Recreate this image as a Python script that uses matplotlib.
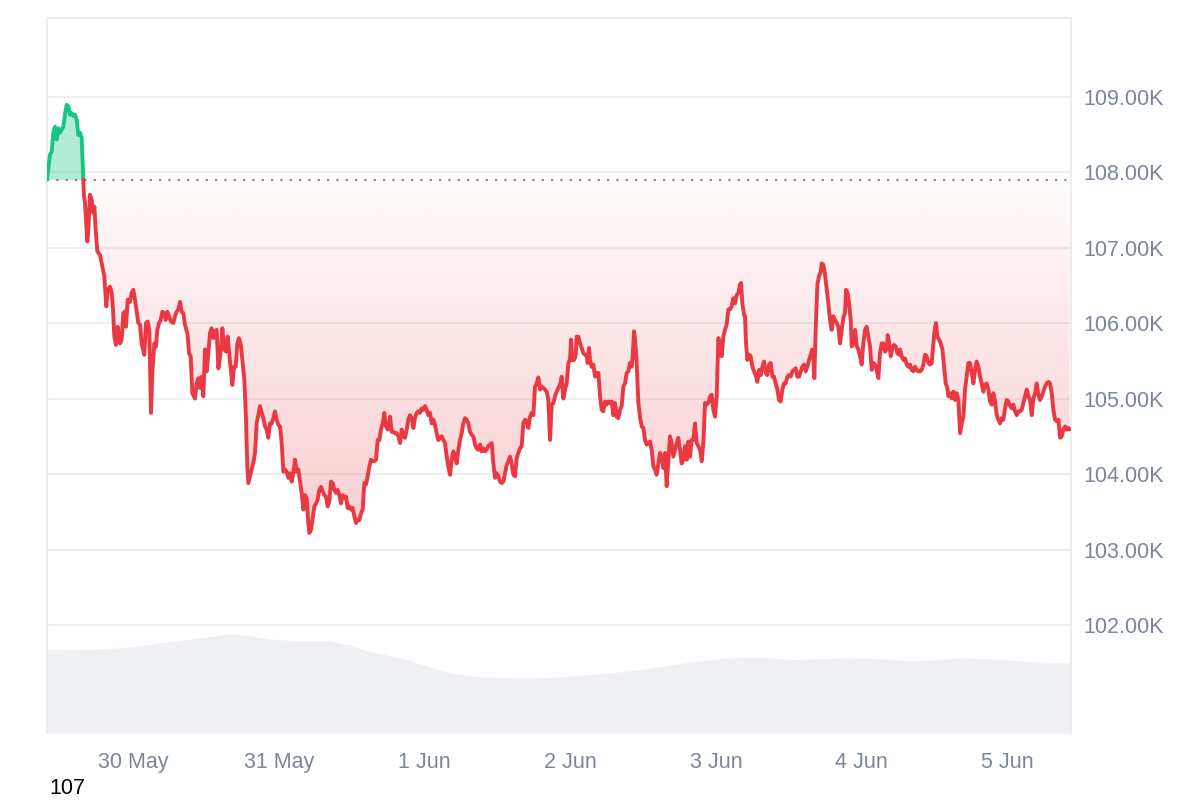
import numpy as np
import pandas as pd
import matplotlib
matplotlib.use("Agg")
import matplotlib.pyplot as plt
import matplotlib.dates as mdates
from matplotlib.colors import LinearSegmentedColormap, to_rgb
from matplotlib.path import Path

plt.rcParams['font.family'] = ['Liberation Sans', 'DejaVu Sans']

# ---------------- data ----------------
start_time = "2025-05-29 09:50"
window_hours = 168.65

hours = [
    0.00, 0.49, 0.77, 1.04, 1.32, 1.59, 1.87, 2.14, 2.42, 2.69, 2.96, 3.24, 3.51, 3.79, 4.06, 4.34, 4.61, 4.89,
    5.16, 5.44, 5.71, 5.82, 5.98, 6.09, 6.26, 6.64, 6.81, 7.08, 7.36, 7.63, 7.80, 8.02, 8.29, 8.73, 9.11, 9.44,
    9.77, 9.99, 10.38, 10.65, 10.87, 11.09, 11.36, 11.64, 12.02, 12.30, 12.57, 12.85, 13.01, 13.29, 13.67, 13.94,
    14.22, 14.49, 14.77, 15.04, 15.32, 15.59, 16.03, 16.31, 16.58, 16.85, 17.13, 17.35, 17.68, 17.95, 18.17, 18.45,
    18.72, 19.00, 19.32, 19.54, 19.82, 20.09, 20.42, 20.81, 21.08, 21.36, 21.63, 21.91, 22.18, 22.45, 22.73, 23.17,
    23.39, 23.66, 23.94, 24.38, 24.65, 24.93, 25.20, 25.47, 25.75, 26.02, 26.30, 26.57, 26.85, 27.12, 27.39, 27.67,
    27.94, 28.22,
    28.66, 28.88, 29.21, 29.48, 29.76, 30.14, 30.52, 30.80, 31.07, 31.35, 31.62, 31.95, 32.23, 32.50, 32.78, 32.99,
    33.16, 33.43, 33.71, 33.98, 34.26, 34.53, 34.81, 35.08, 35.36, 35.63, 35.91, 36.18, 36.45, 36.73, 37.00, 37.28,
    37.55, 37.83, 38.10, 38.38, 38.65, 38.93, 39.20, 39.47, 39.75, 40.02, 40.30, 40.57, 40.85, 41.12, 41.40, 41.67,
    41.94, 42.22, 42.49, 42.77, 43.04, 43.21, 43.48, 43.76, 44.03, 44.31, 44.58, 44.85, 45.13, 45.40, 45.68, 45.95,
    46.23, 46.50, 46.78, 47.05, 47.33, 47.60, 47.87, 48.15, 48.42, 48.70, 48.97, 49.25, 49.52, 49.80, 50.07, 50.34,
    50.62, 50.89, 51.17, 51.44, 51.72, 51.99, 52.26, 52.54, 52.81, 53.09, 53.36, 53.64, 53.91, 54.19, 54.46, 54.73,
    55.01, 55.28, 55.56, 55.83, 56.11, 56.38,
    56.49, 56.77, 57.04, 57.32, 57.59, 57.87, 58.14, 58.42, 58.69, 58.96, 59.24, 59.51, 59.79, 60.06, 60.34, 60.61,
    60.89, 61.16, 61.43, 61.71, 61.98, 62.26, 62.53, 62.81, 63.08, 63.36, 63.63, 63.91, 64.18, 64.45, 64.73, 65.00,
    65.28, 65.55, 65.83, 66.10, 66.38, 66.65, 66.93, 67.20, 67.47, 67.75, 68.02, 68.30, 68.57, 68.85, 69.12, 69.40,
    69.67, 69.94, 70.22, 70.49, 70.77, 71.04, 71.32, 71.59, 71.87, 72.14, 72.41, 72.69, 72.96, 73.24, 73.51, 73.79,
    74.06, 74.34, 74.61, 74.89, 75.16, 75.43, 75.71, 75.98, 76.26, 76.53, 76.81, 77.08, 77.36, 77.63, 77.90, 78.18,
    78.45, 78.73, 79.00, 79.28, 79.55, 79.83, 80.10, 80.38, 80.65, 80.92, 81.20, 81.47, 81.75, 82.02, 82.30, 82.57,
    82.85, 83.12, 83.40, 83.67, 83.94, 84.22,
    84.49, 84.77, 85.04, 85.32, 85.59, 85.87, 86.14, 86.31, 86.52, 86.80, 87.07, 87.24, 87.51, 87.79, 88.06, 88.34,
    88.61, 88.89, 89.05, 89.27, 89.43, 89.71, 89.98, 90.26, 90.53, 90.81, 91.08, 91.36, 91.63, 91.91, 92.18, 92.45,
    92.73, 93.00, 93.28, 93.55, 93.83, 94.10, 94.38, 94.65, 94.93, 95.20, 95.47, 95.75, 96.02, 96.30, 96.46, 96.68,
    96.85, 97.12, 97.40, 97.67, 97.94, 98.22, 98.49, 98.77, 99.04, 99.32, 99.59, 99.87, 100.14, 100.41, 100.69,
    100.96, 101.24, 101.51, 101.79, 102.06, 102.34, 102.61, 102.89, 103.16, 103.43, 103.71, 103.98, 104.26, 104.53,
    104.81, 105.08, 105.36, 105.63, 105.91, 106.18, 106.45, 106.73, 107.00, 107.28, 107.55, 107.83, 108.10, 108.38,
    108.65, 108.93, 109.20, 109.47, 109.75, 110.02, 110.30, 110.57, 110.85, 111.12, 111.40, 111.67, 111.94, 112.22,
    112.49, 112.77, 113.04, 113.32, 113.59, 113.87, 114.14, 114.31, 114.52, 114.80, 114.96, 115.13, 115.35, 115.62,
    115.90, 116.17, 116.45, 116.72, 116.99, 117.27, 117.54, 117.82, 118.09, 118.37, 118.64, 118.92, 119.19, 119.47,
    119.74, 120.01, 120.29, 120.56, 120.84, 121.11, 121.39, 121.66, 121.94, 122.21, 122.49, 122.76, 123.03, 123.31,
    123.58, 123.86, 124.13, 124.41, 124.68, 124.96, 125.23, 125.51, 125.78, 126.05, 126.22, 126.38, 126.60, 126.88,
    127.15, 127.43, 127.59, 127.87, 128.14, 128.42, 128.69, 128.96, 129.24, 129.51, 129.79, 130.06, 130.34, 130.61,
    130.89, 131.16, 131.43, 131.60, 131.87, 132.09, 132.37, 132.53, 132.81, 133.08, 133.36, 133.63, 133.91, 134.18,
    134.45, 134.73, 135.00, 135.28, 135.55, 135.83, 136.10, 136.38, 136.65, 136.92, 137.20, 137.47, 137.75, 138.02,
    138.30, 138.46, 138.68, 138.96, 139.23, 139.50, 139.78, 140.05, 140.33,
    140.49, 140.77, 141.04, 141.32, 141.59, 141.87, 142.14, 142.42, 142.69, 142.96, 143.24, 143.51, 143.79, 144.06,
    144.34, 144.61, 144.89, 145.16, 145.43, 145.71, 145.98, 146.26, 146.42, 146.64, 146.92, 147.19, 147.47, 147.74,
    148.01, 148.29, 148.45, 148.73, 149.00, 149.28, 149.55, 149.83, 150.10, 150.38, 150.65, 150.93, 151.20, 151.47,
    151.75, 152.02, 152.30, 152.57, 152.85, 153.12, 153.40, 153.67, 153.94, 154.22, 154.49, 154.77, 155.04, 155.32,
    155.59, 155.87, 156.14, 156.41, 156.69, 156.96, 157.24, 157.51, 157.79, 158.06, 158.34, 158.61, 158.89, 159.16,
    159.43, 159.71, 159.98, 160.26, 160.53, 160.81, 161.08, 161.36, 161.63, 161.91, 162.18, 162.45, 162.73, 163.00,
    163.28, 163.55, 163.83, 164.10, 164.38, 164.65, 164.92, 165.20, 165.47, 165.75, 166.02, 166.30, 166.57, 166.85,
    167.12, 167.40, 167.67, 167.94, 168.22, 168.38,
]

prices_k = [
    107.90, 108.23, 108.27, 108.52, 108.60, 108.43, 108.58, 108.52, 108.56, 108.60, 108.76, 108.89, 108.87, 108.76,
    108.78, 108.74, 108.76, 108.69, 108.49, 108.52, 108.45, 108.21, 107.90, 107.68, 107.59, 107.08, 107.23, 107.70,
    107.63, 107.46, 107.54, 107.23, 106.95, 106.90, 106.75, 106.62, 106.22, 106.44, 106.48, 106.40, 106.18, 105.82,
    105.71, 105.95, 105.73, 105.78, 106.13, 106.15, 105.95, 106.31, 106.28, 106.40, 106.44, 106.31, 106.15, 106.00,
    105.98, 105.73, 105.58, 106.00, 106.02, 105.91, 104.81, 105.34, 105.73, 105.69, 105.91, 106.00, 106.04, 106.15,
    106.13, 106.04, 106.15, 106.09, 106.02, 106.00, 106.09, 106.15, 106.18, 106.28, 106.15, 106.13, 105.98, 105.84,
    105.60, 105.56, 105.07, 105.00, 105.20, 105.27, 105.14, 105.29, 105.03, 105.65, 105.36, 105.60, 105.87, 105.93,
    105.80, 105.89, 105.91, 105.40,
    105.65, 105.93, 105.65, 105.62, 105.82, 105.49, 105.18, 105.42, 105.42, 105.73, 105.80, 105.69, 105.47, 105.25,
    104.72, 104.10, 103.88, 103.97, 104.06, 104.15, 104.28, 104.67, 104.78, 104.90, 104.81, 104.74, 104.63, 104.59,
    104.48, 104.67, 104.67, 104.74, 104.83, 104.72, 104.65, 104.63, 104.41, 104.03, 104.06, 104.03, 103.95, 104.01,
    103.90, 104.01, 104.19, 104.03, 104.06, 103.90, 103.75, 103.53, 103.72, 103.68, 103.35, 103.22, 103.26, 103.42,
    103.57, 103.61, 103.66, 103.79, 103.83, 103.77, 103.72, 103.70, 103.57, 103.64, 103.90, 103.88, 103.79, 103.75,
    103.79, 103.72, 103.61, 103.72, 103.68, 103.70, 103.55, 103.57, 103.53, 103.55, 103.44, 103.35, 103.39, 103.39,
    103.48, 103.53, 103.88, 103.86, 103.97, 104.10, 104.19, 104.17, 104.17, 104.19, 104.45, 104.45, 104.59, 104.67,
    104.81, 104.63, 104.59, 104.67,
    104.76, 104.56, 104.56, 104.54, 104.54, 104.50, 104.41, 104.59, 104.50, 104.48, 104.59, 104.72, 104.78, 104.74,
    104.61, 104.74, 104.81, 104.83, 104.81, 104.87, 104.85, 104.90, 104.85, 104.78, 104.81, 104.67, 104.72, 104.65,
    104.54, 104.45, 104.48, 104.50, 104.45, 104.41, 104.23, 104.10, 103.99, 104.19, 104.30, 104.23, 104.14, 104.32,
    104.45, 104.54, 104.67, 104.74, 104.72, 104.67, 104.56, 104.52, 104.50, 104.39, 104.34, 104.32, 104.39, 104.30,
    104.34, 104.30, 104.32, 104.37, 104.39, 104.41, 104.14, 103.95, 104.01, 103.97, 103.90, 103.88, 103.90, 104.01,
    104.12, 104.17, 104.23, 104.14, 103.99, 103.97, 104.21, 104.28, 104.34, 104.37, 104.67, 104.72, 104.70, 104.61,
    104.76, 104.81, 104.78, 105.16, 105.20, 105.28, 105.12, 105.16, 105.14, 105.12, 105.09, 104.98, 104.45, 104.92,
    104.94, 105.03, 105.09, 105.14,
    105.18, 105.29, 105.00, 105.12, 105.20, 105.47, 105.51, 105.78, 105.51, 105.51, 105.56, 105.82, 105.82, 105.73,
    105.67, 105.60, 105.58, 105.56, 105.47, 105.67, 105.51, 105.42, 105.45, 105.29, 105.34, 105.34, 105.03, 104.85,
    104.83, 104.96, 104.92, 104.96, 104.94, 104.96, 104.78, 104.94, 104.76, 104.74, 104.85, 104.90, 105.16, 105.20,
    105.34, 105.36, 105.47, 105.42, 105.56, 105.89, 105.78, 105.47, 104.94, 104.76, 104.63, 104.61, 104.45, 104.39,
    104.41, 104.43, 104.32, 104.10, 104.06, 103.99, 104.14, 104.28, 104.23, 104.08, 104.28, 103.84, 104.17, 104.50,
    104.41, 104.23, 104.32, 104.41, 104.48, 104.32, 104.14, 104.19, 104.37, 104.19, 104.43, 104.23, 104.45, 104.45,
    104.67, 104.41, 104.37, 104.32, 104.17, 104.41, 104.94, 104.92, 104.94, 105.03, 105.05, 104.85, 104.76, 105.03,
    105.80, 105.73, 105.56, 105.82, 105.91, 105.98, 106.18,
    106.18, 106.22, 106.33, 106.26, 106.37, 106.40, 106.51, 106.53, 106.26, 106.11, 106.09, 105.73, 105.51, 105.58,
    105.56, 105.42, 105.36, 105.31, 105.22, 105.38, 105.31, 105.42, 105.49, 105.34, 105.31, 105.45, 105.47, 105.29,
    105.29, 105.20, 105.12, 104.98, 104.96, 105.12, 105.20, 105.20, 105.29, 105.31, 105.29, 105.36, 105.38, 105.40,
    105.29, 105.29, 105.36, 105.42, 105.45, 105.36, 105.42, 105.51, 105.58, 105.65, 105.56, 105.27, 105.91, 106.51,
    106.62, 106.68, 106.79, 106.77, 106.64, 106.44, 106.26, 106.04, 105.91, 106.09, 106.04, 106.00, 105.95, 105.73,
    105.91, 106.07, 106.13, 106.44, 106.40, 106.26, 106.04, 105.69, 105.73, 105.91, 105.69, 105.65, 105.56, 105.45,
    105.73, 105.91, 105.95, 105.82, 105.69, 105.38, 105.47, 105.45, 105.38, 105.27, 105.60, 105.73, 105.73, 105.62,
    105.65, 105.84, 105.76, 105.56, 105.67, 105.71, 105.69, 105.60, 105.58,
    105.65, 105.56, 105.51, 105.53, 105.45, 105.42, 105.45, 105.38, 105.36, 105.42, 105.38, 105.36, 105.36, 105.38,
    105.45, 105.58, 105.56, 105.47, 105.45, 105.47, 105.73, 105.95, 106.00, 105.82, 105.78, 105.73, 105.65, 105.42,
    105.20, 105.14, 105.03, 105.07, 105.00, 105.09, 104.98, 105.07, 104.98, 104.54, 104.67, 104.76, 105.12, 105.29,
    105.47, 105.47, 105.34, 105.20, 105.38, 105.49, 105.42, 105.29, 105.20, 105.09, 105.18, 105.20, 105.12, 104.96,
    104.92, 105.07, 104.96, 104.78, 104.72, 104.67, 104.74, 104.72, 104.87, 104.98, 104.96, 104.90, 104.87, 104.92,
    104.83, 104.78, 104.83, 104.83, 104.85, 104.94, 105.03, 105.12, 105.03, 104.98, 104.78, 105.00, 105.07, 105.20,
    105.05, 104.98, 105.03, 105.09, 105.16, 105.20, 105.22, 105.20, 105.07, 104.85, 104.72, 104.70, 104.72, 104.48,
    104.50, 104.59, 104.63, 104.59, 104.61, 104.59,
]

vol_hours = [0, 8.73, 13.67, 18.61, 25.2, 30.14, 33.43, 36.73, 41.67, 46.61, 49.9, 53.2, 58.14, 63.08, 66.38,
             71.32, 77.9, 84.49, 91.08, 97.67, 102.6, 107.55, 112.49, 117.43, 122.37, 127.31, 132.25, 137.19,
             142.13, 147.07, 150.37, 155.31, 160.25, 165.19, 168.65]
volume_bn = [29.1, 29.4, 30.1, 31.5, 33.3, 34.7, 34.0, 32.9, 32.2, 32.2, 30.8, 28.4, 26.3, 23.1, 21.0, 19.6,
             19.3, 19.6, 20.7, 22.1, 23.8, 25.2, 26.3, 26.6, 25.6, 25.9, 26.3, 25.9, 25.2, 25.6, 26.3, 25.9,
             25.2, 24.5, 24.5]

y_ticks_k = [102, 103, 104, 105, 106, 107, 108, 109]
day_ticks = ["2025-05-30", "2025-05-31", "2025-06-01", "2025-06-02", "2025-06-03", "2025-06-04", "2025-06-05"]
day_labels = ["30 May", "31 May", "1 Jun", "2 Jun", "3 Jun", "4 Jun", "5 Jun"]
corner_label = "107"

# ---------------- styling ----------------
RED = "#ea3943"
GREEN = "#16c784"
LABEL_C = "#7b8698"
GRID_C = "#efefef"
VOL_C = "#eef0f4"

start = pd.Timestamp(start_time)
t = mdates.date2num(start + pd.to_timedelta(hours, unit="h"))
tv = mdates.date2num(start + pd.to_timedelta(vol_hours, unit="h"))
p = np.array(prices_k)
base = p[0]
x0 = mdates.date2num(start)
x1 = mdates.date2num(start + pd.Timedelta(hours=window_hours))

fig = plt.figure(figsize=(12, 8), dpi=100)
pos = [47 / 1200, 67 / 800, 1024 / 1200, 715 / 800]

# volume axis (behind)
axv = fig.add_axes(pos)
axv.fill_between(tv, volume_bn, 0, color=VOL_C, lw=0)
axv.set_xlim(x0, x1)
axv.set_ylim(0, 250)
axv.set_xticks([]); axv.set_yticks([])
for s in axv.spines.values():
    s.set_visible(False)

# price axis
ax = fig.add_axes(pos)
ax.patch.set_visible(False)
ax.set_xlim(x0, x1)
ax.set_ylim(100.57, 110.04)

# green fill above baseline
ax.fill_between(t, p, base, where=p >= base, interpolate=True, color=GREEN, alpha=0.33, lw=0, zorder=2)

# red gradient fill below baseline
poly = ax.fill_between(t, p, base, where=p <= base, interpolate=True, facecolor="none", edgecolor="none")
paths = [pp for pp in poly.get_paths() if len(pp.vertices) > 3]
clip = Path.make_compound_path(*paths)
r, g, b = to_rgb(RED)
cmap = LinearSegmentedColormap.from_list("redgrad", [(r, g, b, 0.25), (r, g, b, 0.02)])
grad = np.linspace(0, 1, 256).reshape(-1, 1)
im = ax.imshow(grad, extent=[x0, x1, p.min(), base], origin="lower", cmap=cmap,
               aspect="auto", zorder=1, interpolation="bilinear")
im.set_clip_path(clip, transform=ax.transData)
ax.set_xlim(x0, x1)
ax.set_ylim(100.57, 110.04)

# lines
green_line = np.ma.masked_where(p < base, p)
red_line = np.ma.masked_where(p > base, p)
ax.plot(t, green_line, color=GREEN, lw=2.8, solid_joinstyle="round", solid_capstyle="round", zorder=4)
ax.plot(t, red_line, color=RED, lw=2.8, solid_joinstyle="round", solid_capstyle="round", zorder=4)

# baseline
ax.axhline(base, color="#8a8a8a", lw=1.6, ls=(0, (1, 3.2)), zorder=3)

# grid & ticks
ax.set_yticks(y_ticks_k)
ax.set_yticklabels([f"{v:.2f}K" for v in y_ticks_k])
ax.yaxis.tick_right()
ax.grid(axis="y", color=GRID_C, lw=1.5, zorder=0)
ax.set_axisbelow(True)
ax.set_xticks(mdates.date2num(pd.to_datetime(day_ticks)))
ax.set_xticklabels(day_labels)
ax.tick_params(axis="y", length=0, pad=8.6, labelsize=15.5, labelcolor=LABEL_C)
ax.tick_params(axis="x", length=0, pad=14, labelsize=15.5, labelcolor=LABEL_C)

for side in ["left", "right", "top"]:
    ax.spines[side].set_color("#ececec")
    ax.spines[side].set_linewidth(1.5)
ax.spines["bottom"].set_visible(False)

fig.text(49 / 1200, 1 - 794 / 800, corner_label, fontsize=15.5, color="black", ha="left", va="baseline")

fig.savefig("out.png", dpi=100)
